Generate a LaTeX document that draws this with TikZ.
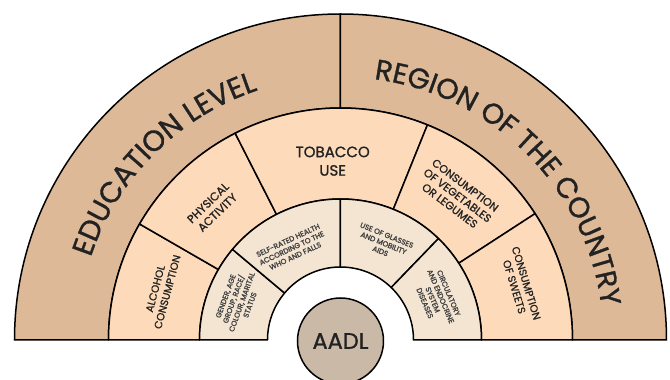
\documentclass[tikz,border=0pt]{standalone}
\usepackage{fontspec}
\setmainfont{Poppins}
\newfontfamily\labelfont{Poppins}[FakeBold=1.1]
\newfontfamily\smallfont{Poppins}[FakeBold=2]
\usetikzlibrary{decorations.text}

\definecolor{outerring}{HTML}{DDB998}
\definecolor{midring}{HTML}{FDDABA}
\definecolor{innerring}{HTML}{F3E5D2}
\definecolor{hubfill}{HTML}{CBB9A7}
\definecolor{ink}{HTML}{222222}

% annular sector: fill colour, start angle, end angle, inner radius, outer radius
\newcommand\annsector[5]{%
  \filldraw[fill=#1, ringline] (#2:#4) -- (#2:#5)
    arc[start angle=#2, end angle=#3, radius=#5] -- (#3:#4)
    arc[start angle=#3, end angle=#2, radius=#4] -- cycle;}

\tikzset{
  ringline/.style={draw=black, line width=1.5pt, line join=round},
  midlabel/.style={text=ink, align=center, inner sep=0pt,
    font=\labelfont\fontsize{11}{13}\selectfont},
  innerlabel/.style={text=ink!85, align=center, inner sep=0pt,
    font=\smallfont\fontsize{7.3}{8.6}\selectfont}
}

\begin{document}
\begin{tikzpicture}[x=1pt, y=1pt]
\useasboundingbox (-340.5,-40) rectangle (329.5,340);

% outer ring
\annsector{outerring}{90}{180}{232}{326}
\annsector{outerring}{0}{90}{232}{326}

% middle ring
\annsector{midring}{150}{180}{141}{232}
\annsector{midring}{117}{150}{141}{232}
\annsector{midring}{68}{117}{141}{232}
\annsector{midring}{33}{68}{141}{232}
\annsector{midring}{0}{33}{141}{232}

% inner ring
\annsector{innerring}{140}{180}{73}{141}
\annsector{innerring}{90}{140}{73}{141}
\annsector{innerring}{46}{90}{73}{141}
\annsector{innerring}{0}{46}{73}{141}

% curved headings of the outer ring
\path[decorate, decoration={text along path, text align=center,
    text={|\labelfont\fontsize{29}{32}\selectfont\color{ink}|EDUCATION LEVEL}}]
  (180:263) arc[start angle=180, end angle=90, radius=263];
\path[decorate, decoration={text along path, text align=center,
    text={|\labelfont\fontsize{28.5}{32}\selectfont\color{ink}|REGION OF THE COUNTRY}}]
  (90:263) arc[start angle=90, end angle=0, radius=263];

% middle ring labels
\node[midlabel, rotate=75, font=\labelfont\fontsize{10.5}{12.5}\selectfont] (alcohol) at (164.5:186) {ALCOHOL\\CONSUMPTION};
\node[midlabel, rotate=44, font=\labelfont\fontsize{11.5}{13.5}\selectfont] (physical) at (134:184) {PHYSICAL\\ACTIVITY};
\node[midlabel, font=\labelfont\fontsize{15}{18.5}\selectfont] (tobacco) at (92.5:179) {TOBACCO\\USE};
\node[midlabel, rotate=-37, font=\labelfont\fontsize{11}{12.8}\selectfont] (vegetables) at (51:186) {CONSUMPTION\\OF VEGETABLES\\OR LEGUMES};
\node[midlabel, rotate=-73, font=\labelfont\fontsize{10.5}{12.5}\selectfont] (sweets) at (17:188) {CONSUMPTION\\OF SWEETS};

% inner ring labels
\node[innerlabel, rotate=70] (gender) at (159:110) {GENDER, AGE\\GROUP, RACE/\\COLOUR, MARITAL\\STATUS};
\node[innerlabel, rotate=25] (selfrated) at (118:104) {SELF-RATED HEALTH\\ACCORDING TO THE\\WHO AND FALLS};
\node[innerlabel, rotate=-22] (glasses) at (66:106) {USE OF GLASSES\\AND MOBILITY\\AIDS};
\node[innerlabel, rotate=-67] (circulatory) at (23.5:105) {CIRCULATORY\\AND ENDOCRINE\\SYSTEM\\DISEASES};

% central hub
\node[circle, draw=black, line width=1.5pt, fill=hubfill, minimum size=86pt,
      inner sep=0pt, text=ink, font=\labelfont\fontsize{22.5}{25}\selectfont] (aadl) at (0,-1) {AADL};
\end{tikzpicture}
\end{document}
